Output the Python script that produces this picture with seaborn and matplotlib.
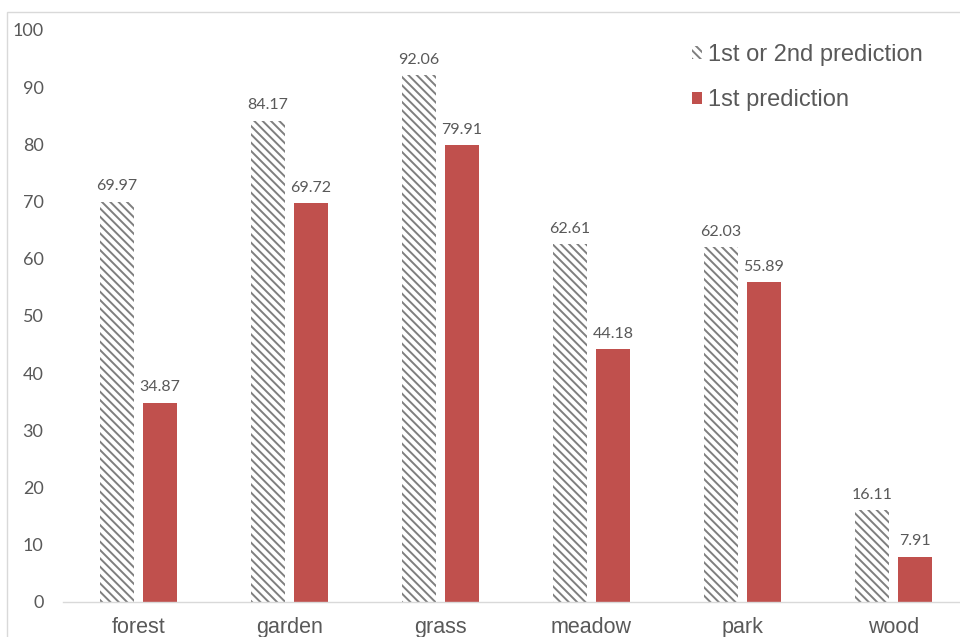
import matplotlib
matplotlib.use("Agg")
import matplotlib.pyplot as plt
import matplotlib.patches as mpatches
import seaborn as sns
import pandas as pd

categories = ['forest', 'garden', 'grass', 'meadow', 'park', 'wood']
series = ['1st or 2nd prediction', '1st prediction']
top2 = [69.97, 84.17, 92.06, 62.61, 62.03, 16.11]
top1 = [34.87, 69.72, 79.91, 44.18, 55.89, 7.91]

df = pd.DataFrame({
    'category': categories * 2,
    'series': [series[0]] * len(categories) + [series[1]] * len(categories),
    'value': top2 + top1,
})

red = '#C0504D'
grey_txt = '#595959'
hatch_grey = '#7f7f7f'
hatch = '\\\\\\\\'

sns.set_style('white')
plt.rcParams['hatch.linewidth'] = 1.4

fig = plt.figure(figsize=(9.6, 6.37), dpi=100)
ax = fig.add_axes([63 / 960, 1 - 602 / 637, 906 / 960, 572 / 637])

sns.barplot(data=df, x='category', y='value', hue='series', ax=ax,
            palette=['white', red], width=0.57, gap=0.21,
            legend=False, errorbar=None, saturation=1)

for bar in ax.containers[0]:
    bar.set_facecolor('white')
    bar.set_edgecolor(hatch_grey)
    bar.set_hatch(hatch)
    bar.set_linewidth(0)
for bar in ax.containers[1]:
    bar.set_linewidth(0)

for cont, vals in zip(ax.containers, [top2, top1]):
    ax.bar_label(cont, labels=[f'{v:.2f}' for v in vals], padding=6,
                 color=grey_txt, fontsize=11.5, family='Lato')

ax.set_ylim(0, 100)
ax.set_yticks(range(0, 101, 10))
ax.set_xlabel('')
ax.set_ylabel('')
ax.tick_params(axis='y', length=0, pad=14, labelsize=13, labelcolor=grey_txt)
ax.tick_params(axis='x', length=0, pad=11, labelsize=15.5, labelcolor=grey_txt)
for lab in ax.get_yticklabels():
    lab.set_family('Lato')
for lab in ax.get_xticklabels():
    lab.set_family('Liberation Sans')

for s in ['top', 'right', 'left']:
    ax.spines[s].set_visible(False)
ax.spines['bottom'].set_color('#d9d9d9')
ax.spines['bottom'].set_linewidth(1)

# chart area border
fig.patches.append(mpatches.Rectangle((7 / 960, -0.1), 1.1, 1 - 12 / 637 + 0.1,
                                      transform=fig.transFigure, fill=False,
                                      edgecolor='#d9d9d9', linewidth=1))

handles = [mpatches.Patch(facecolor='white', edgecolor=hatch_grey, hatch=hatch, linewidth=0),
           mpatches.Patch(facecolor=red, linewidth=0)]
fig.legend(handles, series, loc='upper left', bbox_to_anchor=(680 / 960, 1 - 32 / 637),
           frameon=False, borderpad=0, handlelength=0.45, handleheight=0.45,
           handletextpad=0.25, labelspacing=1.0, labelcolor=grey_txt,
           prop={'family': 'Liberation Sans', 'size': 17})

fig.savefig('out.png', dpi=100)
